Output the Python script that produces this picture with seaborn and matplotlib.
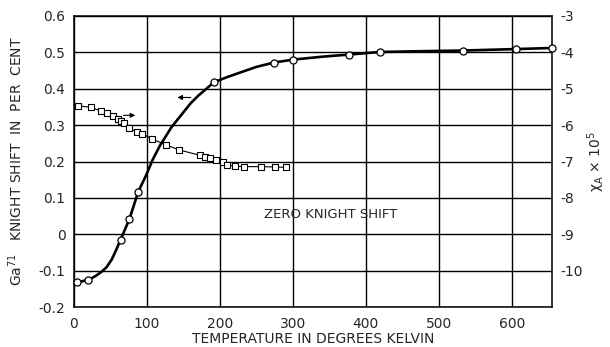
import matplotlib
matplotlib.use('Agg')
import matplotlib.pyplot as plt
import seaborn as sns
import pandas as pd

# Knight shift (left axis), measured points
knight_T = [5, 19, 64, 76, 88, 192, 274, 300, 377, 419, 533, 605, 655]
knight_shift = [-0.132, -0.125, -0.015, 0.041, 0.116, 0.418, 0.472, 0.480,
                0.494, 0.501, 0.505, 0.509, 0.512]

# smooth hand-drawn curve through the knight shift points
curve_T = [5, 10, 19, 25, 31, 38, 45, 52, 58, 64, 70, 76, 82, 88, 99, 108,
           118, 134, 150, 160, 170, 192, 210, 227, 250, 274, 300, 340, 377,
           419, 470, 533, 605, 655]
curve_shift = [-0.132, -0.130, -0.125, -0.120, -0.113, -0.103, -0.090, -0.069,
               -0.043, -0.015, 0.013, 0.041, 0.078, 0.116, 0.162, 0.205,
               0.244, 0.295, 0.335, 0.360, 0.380, 0.418, 0.432, 0.444, 0.460,
               0.472, 0.480, 0.488, 0.494, 0.501, 0.503, 0.505, 0.509, 0.512]

# susceptibility chi_A x 10^5 (right axis)
chi_T = [6, 23, 37, 46, 54, 60, 64, 69, 76, 86, 93, 107, 126, 144, 173, 180,
         186, 195, 205, 210, 221, 233, 256, 275, 291]
chi_val = [-5.47, -5.51, -5.61, -5.68, -5.75, -5.82, -5.88, -5.95, -6.09,
           -6.18, -6.23, -6.38, -6.54, -6.68, -6.83, -6.87, -6.91, -6.95,
           -7.02, -7.09, -7.13, -7.14, -7.14, -7.15, -7.16]

knight = pd.DataFrame({'T': knight_T, 'shift': knight_shift})
curve = pd.DataFrame({'T': curve_T, 'shift': curve_shift})
chi = pd.DataFrame({'T': chi_T, 'chi': chi_val})

sns.set_style("white")
plt.rcParams['font.family'] = ['DejaVu Sans']
plt.rcParams['axes.unicode_minus'] = False

fig = plt.figure(figsize=(6.1, 3.47), dpi=100)
ax = fig.add_axes([0.121, 0.115, 0.784, 0.839])

sns.lineplot(data=curve, x='T', y='shift', ax=ax, color='black', lw=1.9,
             sort=False)
sns.scatterplot(data=knight, x='T', y='shift', ax=ax, marker='o', s=26,
                facecolor='white', edgecolor='black', linewidth=0.9, zorder=5,
                clip_on=False)

ax.set_xlim(0, 655)
ax.set_ylim(-0.2, 0.6)
ax.set_xticks([0, 100, 200, 300, 400, 500, 600])
ax.set_yticks([-0.2, -0.1, 0, 0.1, 0.2, 0.3, 0.4, 0.5, 0.6])
ax.set_yticklabels(['-0.2', '-0.1', '0', '0.1', '0.2', '0.3', '0.4', '0.5', '0.6'])
ax.grid(True, color='black', lw=1.0)
ax.set_axisbelow(True)
ax.tick_params(axis='x', direction='in', length=4, width=1, pad=7,
               labelsize=10, top=False)
ax.tick_params(axis='y', length=0, pad=6, labelsize=10)
for sp in ax.spines.values():
    sp.set_color('black')
    sp.set_linewidth(1.1)

ax.set_xlabel('TEMPERATURE IN DEGREES KELVIN', fontsize=10, labelpad=1)
ax.set_ylabel('Ga$^{71}$   KNIGHT SHIFT  IN  PER  CENT', fontsize=10,
              labelpad=10)

ax2 = ax.twinx()
sns.lineplot(data=chi, x='T', y='chi', ax=ax2, color='black', lw=0.8)
sns.scatterplot(data=chi, x='T', y='chi', ax=ax2, marker='s', s=16,
                facecolor='white', edgecolor='black', linewidth=0.8, zorder=5)
ax2.set_ylim(-11, -3)
ax2.set_yticks([-10, -9, -8, -7, -6, -5, -4, -3])
ax2.tick_params(axis='y', length=0, pad=6, labelsize=10)
ax2.set_ylabel('χ$_\\mathrm{A}$ × 10$^5$', fontsize=10, labelpad=2)
ax2.set_xlabel('')
for sp in ax2.spines.values():
    sp.set_visible(False)

ax.annotate('', xy=(138, 0.376), xytext=(164, 0.376),
            arrowprops=dict(arrowstyle='-|>', color='black', lw=0.8,
                            mutation_scale=7))
ax.annotate('', xy=(88, 0.327), xytext=(64, 0.327),
            arrowprops=dict(arrowstyle='-|>', color='black', lw=0.8,
                            mutation_scale=7))
ax.text(352, 0.055, 'ZERO KNIGHT SHIFT', fontsize=9.5, ha='center',
        va='center')

fig.savefig('out.png', dpi=100)
